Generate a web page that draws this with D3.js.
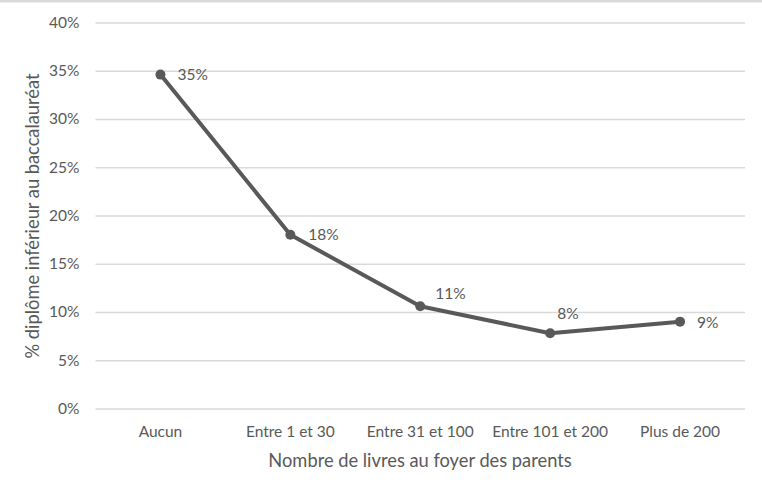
<!DOCTYPE html>
<html><head><meta charset="utf-8">
<script src="https://cdn.jsdelivr.net/npm/d3@7"></script>
<style>body{margin:0;background:#fff;} svg{display:block;font-family:Lato, "Open Sans", sans-serif;}</style>
</head><body>
<svg id="c" width="762" height="491"></svg>
<script>
const categories = ["Aucun", "Entre 1 et 30", "Entre 31 et 100", "Entre 101 et 200", "Plus de 200"];
const values = [0.346, 0.180, 0.106, 0.078, 0.090];
const labels = ["35%", "18%", "11%", "8%", "9%"];
const yTicks = [0, 0.05, 0.10, 0.15, 0.20, 0.25, 0.30, 0.35, 0.40];
const yTitle = "% diplôme inférieur au baccalauréat";
const xTitle = "Nombre de livres au foyer des parents";

// label placement nudges (style, not data)
const labelNudge = [[17, 5.5], [18, 5.5], [15, -7.5], [7, -14], [17, 6.5]];

const svg = d3.select("#c");
const m = {left: 95.5, right: 745, top: 22.5, bottom: 408.5};
const txt = "#595959";
const fs = 15.5;

svg.append("rect").attr("x",0).attr("y",0).attr("width",762).attr("height",2.5).attr("fill","#d9d9d9");

const x = d3.scaleBand().domain(categories).range([m.left, m.right]);
const y = d3.scaleLinear().domain([0, 0.40]).range([m.bottom, m.top]);

const yAxis = d3.axisLeft(y).tickValues(yTicks).tickFormat(d3.format(".0%")).tickSize(-(m.right - m.left)).tickPadding(16);
const gy = svg.append("g").attr("transform", `translate(${m.left},0)`).call(yAxis);
gy.select(".domain").remove();
gy.selectAll(".tick line").attr("stroke", "#d9d9d9").attr("stroke-width", 1.5);
gy.selectAll(".tick text").attr("fill", txt).attr("font-size", fs).attr("font-family","Lato, sans-serif");

const xAxis = d3.axisBottom(x).tickSize(0).tickPadding(17);
const gx = svg.append("g").attr("transform", `translate(0,${m.bottom})`).call(xAxis);
gx.select(".domain").remove();
gx.selectAll(".tick text").attr("fill", txt).attr("font-size", fs).attr("font-family","Lato, sans-serif");

const cx = d => x(d) + x.bandwidth()/2;
const pts = categories.map((c,i)=>({c, v: values[i], l: labels[i], n: labelNudge[i]}));

svg.append("path").datum(pts)
  .attr("fill","none").attr("stroke","#595959").attr("stroke-width",4).attr("stroke-linejoin","round")
  .attr("d", d3.line().x(d=>cx(d.c)).y(d=>y(d.v)));

svg.selectAll("circle.pt").data(pts).join("circle")
  .attr("cx", d=>cx(d.c)).attr("cy", d=>y(d.v)).attr("r", 5).attr("fill","#595959");

svg.selectAll("text.lab").data(pts).join("text")
  .attr("x", d=> cx(d.c) + d.n[0])
  .attr("y", d=> y(d.v) + d.n[1])
  .attr("text-anchor", "start")
  .attr("fill", txt).attr("font-size", fs)
  .text(d=>d.l);

svg.append("text").attr("transform","translate(39,216) rotate(-90)")
  .attr("text-anchor","middle").attr("fill",txt).attr("font-size",18.3).text(yTitle);
svg.append("text").attr("x", 420).attr("y", 467)
  .attr("text-anchor","middle").attr("fill",txt).attr("font-size",18.3).text(xTitle);
</script>
</body></html>
